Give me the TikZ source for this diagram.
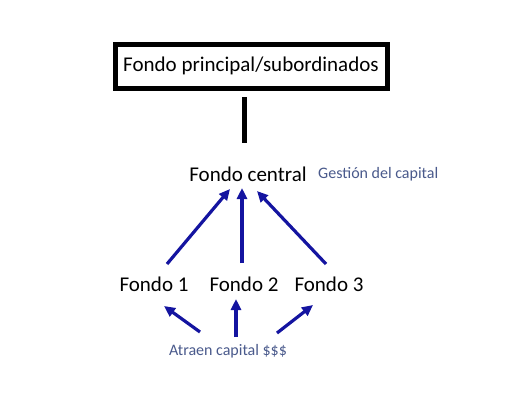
\documentclass[tikz,border=0pt]{standalone}
\usepackage{fontspec}
\setmainfont{Carlito}
\usetikzlibrary{arrows.meta}
\definecolor{arrblue}{HTML}{1414A0}
\definecolor{lblue}{HTML}{4A5A8C}
\tikzset{
  big/.style={font=\fontsize{21}{25}\selectfont, inner sep=0pt, anchor=center},
  small/.style={font=\fontsize{16}{19}\selectfont, text=lblue, inner sep=0pt},
  arr/.style={draw=arrblue, line width=3.2pt, -{Triangle[length=11pt,width=10pt]}},
  mainbox/.style={draw=black, line width=5pt, minimum width=272pt, minimum height=44pt, inner sep=0pt, font=\fontsize{21}{25}\selectfont}
}
\begin{document}
\begin{tikzpicture}[x=1pt,y=-1pt]
\useasboundingbox[fill=white] (0,0) rectangle (516,400);
\node[mainbox] (top) at (251,66) {Fondo principal/subordinados};
\node[big] (central) at (248,174) {Fondo central};
\node[small, anchor=west] (gest) at (318,174) {Gestión del capital};
\node[big] (f1) at (154,284) {Fondo 1};
\node[big] (f2) at (244,284) {Fondo 2};
\node[big] (f3) at (329,284) {Fondo 3};
\node[small] (atr) at (228,351) {Atraen capital \$\$\$};
\coordinate (l1) at (244,97);
\coordinate (l2) at (244,143);
\draw[line width=5pt] (l1) -- (l2);
\coordinate (a1s) at (167,264); \coordinate (a1e) at (230,189);
\coordinate (a2s) at (242,263); \coordinate (a2e) at (242,188);
\coordinate (a3s) at (326,264); \coordinate (a3e) at (257,191);
\draw[arr] (a1s) -- (a1e);
\draw[arr] (a2s) -- (a2e);
\draw[arr] (a3s) -- (a3e);
\coordinate (b1s) at (200,332); \coordinate (b1e) at (164,306);
\coordinate (b2s) at (236,337); \coordinate (b2e) at (236,299);
\coordinate (b3s) at (277,333); \coordinate (b3e) at (313,305);
\draw[arr] (b1s) -- (b1e);
\draw[arr] (b2s) -- (b2e);
\draw[arr] (b3s) -- (b3e);
\end{tikzpicture}
\end{document}
